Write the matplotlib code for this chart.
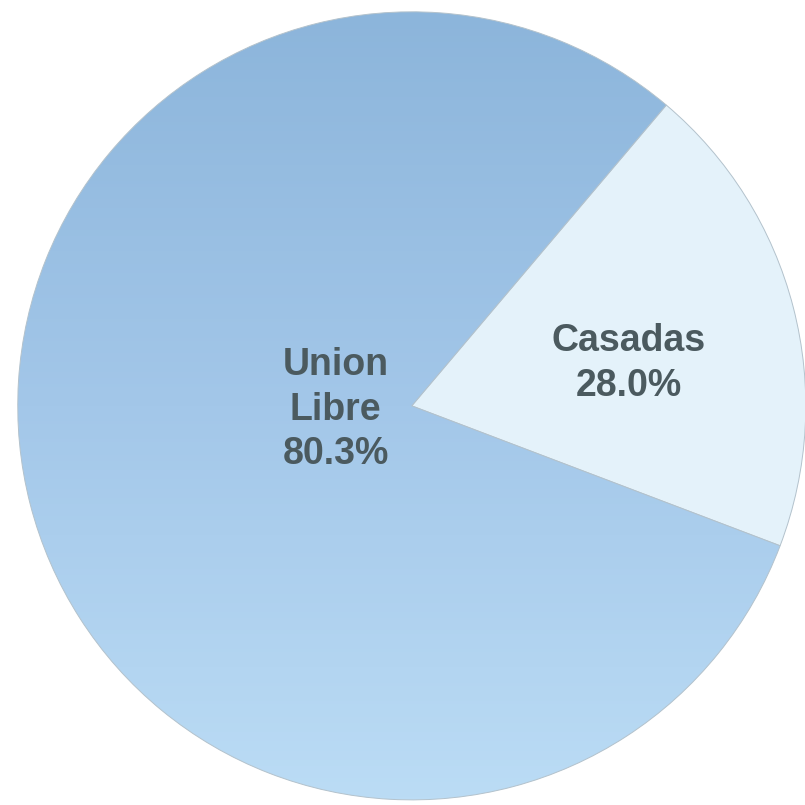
import numpy as np
import matplotlib
matplotlib.use("Agg")
import matplotlib.pyplot as plt
from matplotlib.colors import LinearSegmentedColormap

# wedge sizes as drawn (percent of the circle) and the printed labels
categories = ["Casadas", "Union\nLibre"]
slice_sizes = [19.6, 80.4]
label_values = [28.0, 80.3]

fig = plt.figure(figsize=(8.05, 8.05), dpi=100)
ax = fig.add_axes([0, 0, 1, 1])

wedges, _ = ax.pie(slice_sizes, startangle=-20.8, counterclock=True,
                   colors=["#e4f2fa", "#a0c4e6"],
                   wedgeprops=dict(edgecolor="#b3c2cc", linewidth=0.7))

# vertical gradient on the big slice, darker at top
cmap = LinearSegmentedColormap.from_list("ul", ["#bbdcf5", "#a3c7e9", "#8cb5db"])
grad = np.linspace(0, 1, 256).reshape(-1, 1)
img = ax.imshow(grad, extent=[-1, 1, -1, 1], origin="lower", cmap=cmap,
                aspect="auto", zorder=wedges[1].get_zorder() + 0.1)
img.set_clip_path(wedges[1])
wedges[1].set_facecolor("none")
wedges[1].set_zorder(img.get_zorder() + 0.1)

txt_kw = dict(ha="center", va="center", fontsize=27, fontweight="bold",
              color="#4b5a5f", family="Liberation Sans", linespacing=1.3, zorder=10)
ax.text(0.55, 0.107, f"{categories[0]}\n{label_values[0]:.1f}%", **txt_kw)
ax.text(-0.193, -0.01, f"{categories[1]}\n{label_values[1]:.1f}%", **txt_kw)

ax.set_xlim(-1.045, 0.998)
ax.set_ylim(-1.013, 1.030)
ax.set_aspect("auto")
ax.axis("off")

fig.savefig("out.png", dpi=100, facecolor="white")
